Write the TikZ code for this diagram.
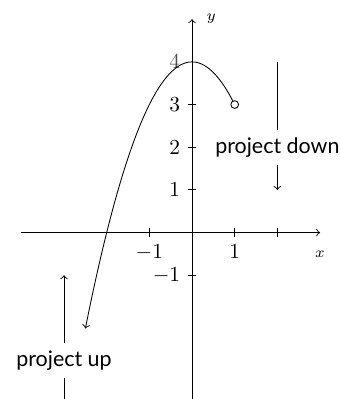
\documentclass[tikz,border=0pt]{standalone}
\usepackage{fontspec}
\newfontfamily\notefont{Lato}
\usetikzlibrary{positioning}
\tikzset{
  axisline/.style={->},
  projarrow/.style={->},
  projlabel/.style={font=\notefont},
  axislabel/.style={font=\scriptsize},
  hole/.style={draw, fill=white, circle, inner sep=0pt, minimum size=3.6pt}
}
\begin{document}
\begin{tikzpicture}[x=0.7cm, y=0.7cm]
  \useasboundingbox (-4.5,-3.9) rectangle (3.49,5.45);
  % axes
  \draw[axisline] (-4,0) -- (3,0);
  \draw[axisline] (0,-4) -- (0,5);
  \node[axislabel] (xlab) at (3,-0.5) {$x$};
  \node[axislabel] (ylab) at (0.45,5) {$y$};
  % ticks
  \foreach \t/\lab [count=\i] in {-1/$-1$, 1/$1$, 2/{}}
    \draw (\t,2pt) -- (\t,-2pt) node[below] (xtick\i) {\lab};
  \foreach \t [count=\i] in {-1,1,2,3}
    \draw (2pt,\t) -- (-2pt,\t) node[left] (ytick\i) {$\t$};
  \node[left, text=black!70] (ytop) at (-2pt,4) {$4$};
  % curve
  \draw[->] plot[domain=1:-2.5, samples=60, smooth] (\x,{4-(\x)^2});
  \node[hole] (endpt) at (1,3) {};
  % projections
  \node[projlabel] (down) at (2,2) {project down};
  \coordinate (downstart) at (2,4);
  \coordinate (downend) at (2,1);
  \draw (downstart) -- (down);
  \draw[projarrow] (down) -- (downend);
  \node[projlabel] (up) at (-3,-3) {project up};
  \coordinate (upstart) at (-3,-4);
  \coordinate (upend) at (-3,-1);
  \draw (upstart) -- (up);
  \draw[projarrow] (up) -- (upend);
\end{tikzpicture}
\end{document}
